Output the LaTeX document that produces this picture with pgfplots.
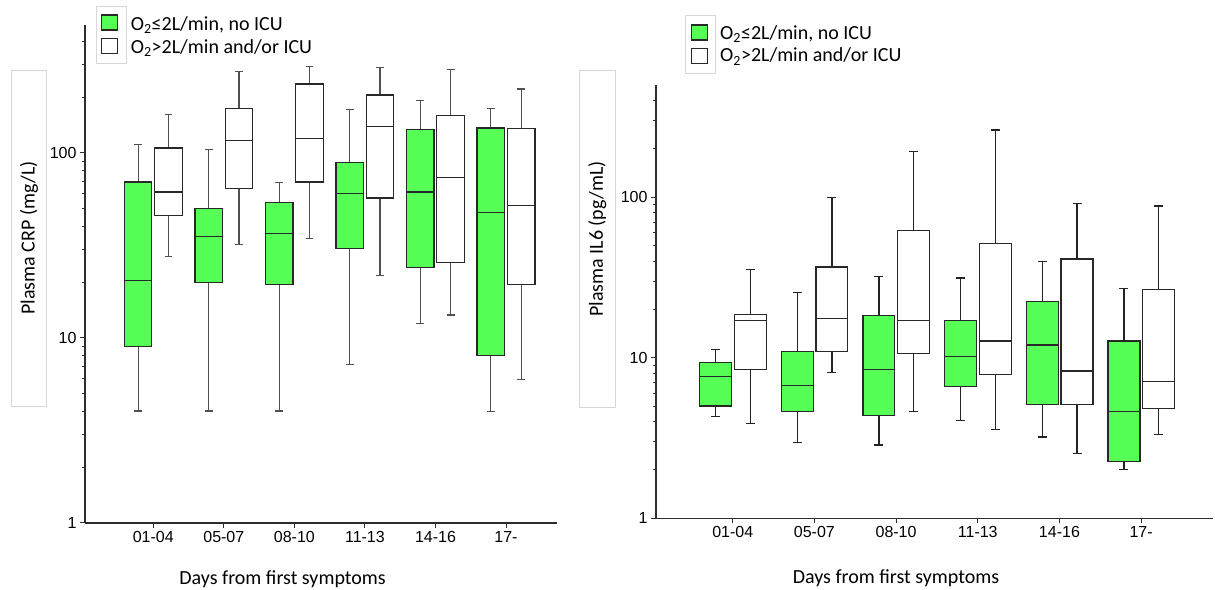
\documentclass[border=0pt]{standalone}
\usepackage{pgfplots}
\pgfplotsset{compat=1.18}
\usepackage{fontspec}
\setmainfont{Carlito}
\newfontfamily\arialf{Liberation Sans}
\definecolor{grn}{RGB}{85,255,85}
\definecolor{boxcol}{RGB}{40,40,40}
\definecolor{whiskL}{RGB}{80,80,80}
\definecolor{whiskR}{RGB}{35,35,35}
\definecolor{axiscol}{RGB}{45,45,45}
\definecolor{framecol}{RGB}{215,215,215}
\newcommand\tickf{\arialf\fontsize{16bp}{18bp}\selectfont}
\newcommand\labf{\fontsize{20bp}{22bp}\selectfont}
\def\wc{whiskL}
% box: fill, position, lower whisker, lower quartile, median, upper quartile, upper whisker
\newcommand\bx[7]{%
  \pgfmathsetmacro\xa{#2-0.195}%
  \pgfmathsetmacro\xb{#2+0.195}%
  \pgfmathsetmacro\ca{#2-0.055}%
  \pgfmathsetmacro\cb{#2+0.055}%
  \edef\tmp{%
    \noexpand\addplot[draw=\wc, line width=1.2bp] coordinates {(#2,#6) (#2,#7)};
    \noexpand\addplot[draw=\wc, line width=1.2bp] coordinates {(\ca,#7) (\cb,#7)};
    \noexpand\addplot[draw=\wc, line width=1.2bp] coordinates {(#2,#3) (#2,#4)};
    \noexpand\addplot[draw=\wc, line width=1.2bp] coordinates {(\ca,#3) (\cb,#3)};
    \noexpand\addplot[draw=boxcol, line width=1.2bp, fill=#1] coordinates {(\xa,#4) (\xb,#4) (\xb,#6) (\xa,#6)} --cycle;
    \noexpand\addplot[draw=boxcol, line width=1.2bp] coordinates {(\xa,#5) (\xb,#5)};
  }\tmp}
\pgfplotsset{
  myaxis/.style={
    anchor=south west, scale only axis,
    axis x line*=bottom, axis y line*=left,
    axis line style={line width=1.3bp, draw=axiscol},
    xtick={0,1,2,3,4,5},
    xticklabels={01-04,05-07,08-10,11-13,14-16,17-},
    ytick={1,10,100}, yticklabels={1,10,100},
    minor ytick={2,3,4,5,6,7,8,9,20,30,40,50,60,70,80,90,200,300,400},
    tick align=outside, major tick length=5bp, minor tick length=3bp,
    every tick/.style={line width=1bp, draw=axiscol},
    tick label style={font=\tickf},
    /pgf/number format/assume math mode=true,
    clip=false,
  }
}
\begin{document}
\begin{tikzpicture}[x=1bp,y=1bp]
\useasboundingbox (0,0) rectangle (1215,590);
% ---------- left panel ----------
\def\wc{whiskL}
\begin{axis}[ymode=log, myaxis, at={(85bp,67bp)}, width=472bp, height=498bp,
  ymin=1, ymax=490, xmin=-0.968, xmax=5.723]
\bx{grn}{-0.215}{4.03}{8.97}{20.4}{69.5}{111}
\bx{white}{0.215}{27.4}{45.6}{61.3}{106}{161}
\bx{grn}{0.785}{4.03}{19.9}{35.4}{49.8}{104}
\bx{white}{1.215}{31.9}{64.4}{116}{174}{275}
\bx{grn}{1.785}{4.03}{19.4}{36.8}{54.1}{68.8}
\bx{white}{2.215}{34.5}{69.5}{119}{235}{293}
\bx{grn}{2.785}{7.21}{30.5}{60.4}{88.3}{172}
\bx{white}{3.215}{21.8}{56.9}{139}{205}{289}
\bx{grn}{3.785}{12.0}{23.9}{61.3}{133}{192}
\bx{white}{4.215}{13.3}{25.5}{73.2}{159}{282}
\bx{grn}{4.785}{4.01}{8.0}{47.4}{136}{174}
\bx{white}{5.215}{5.94}{19.5}{51.8}{135}{221}
\end{axis}
% ---------- right panel ----------
\def\wc{whiskR}
\begin{axis}[ymode=log, myaxis, at={(656bp,71.7bp)}, width=557bp, height=433.3bp,
  ymin=1, ymax=500, xmin=-0.939, xmax=5.88]
\bx{grn}{-0.21}{4.29}{5.0}{7.65}{9.3}{11.3}
\bx{white}{0.215}{3.88}{8.46}{17.0}{18.7}{35.6}
\bx{grn}{0.79}{2.95}{4.61}{6.69}{11.0}{25.6}
\bx{white}{1.215}{8.13}{11.0}{17.6}{36.8}{99.4}
\bx{grn}{1.79}{2.86}{4.37}{8.41}{18.4}{32.2}
\bx{white}{2.215}{4.63}{10.6}{17.1}{62}{192}
\bx{grn}{2.79}{4.05}{6.59}{10.2}{17.1}{31.4}
\bx{white}{3.215}{3.59}{7.83}{12.7}{51.4}{262}
\bx{grn}{3.79}{3.21}{5.12}{12.0}{22.4}{39.9}
\bx{white}{4.215}{2.52}{5.12}{8.26}{41.2}{91.6}
\bx{grn}{4.79}{2.01}{2.26}{4.63}{12.7}{27.1}
\bx{white}{5.215}{3.33}{4.81}{7.08}{26.6}{88.2}
\end{axis}
% ---------- y-label frames ----------
\draw[framecol, line width=0.8bp] (11.7,183.3) rectangle (46,520);
\node[rotate=90, font=\labf] at (29,352) {Plasma CRP (mg/L)};
\draw[framecol, line width=0.8bp] (579.3,182.7) rectangle (615.3,519.3);
\node[rotate=90, font=\labf] at (597.3,351) {Plasma IL6 (pg/mL)};
% ---------- x labels ----------
\node[anchor=base, font=\labf, inner sep=0] at (282.6,5) {Days from first symptoms};
\node[anchor=base, font=\labf, inner sep=0] at (896,6.7) {Days from first symptoms};
% ---------- legends ----------
\draw[framecol, line width=0.8bp] (96.7,583.3) rectangle (126,526.7);
\draw[boxcol, line width=1.2bp, fill=grn] (101.7,575) rectangle (117.3,560);
\draw[boxcol, line width=1.2bp, fill=white] (101.7,551.7) rectangle (117.3,536.7);
\node[anchor=base west, font=\labf, inner sep=0] at (130.7,559.3) {O\textsubscript{2}≤2L/min, no ICU};
\node[anchor=base west, font=\labf, inner sep=0] at (130.7,536.7) {O\textsubscript{2}>2L/min and/or ICU};
\draw[framecol, line width=0.8bp] (685,575) rectangle (715.7,516.7);
\draw[boxcol, line width=1.2bp, fill=grn] (691.7,565) rectangle (707.3,550);
\draw[boxcol, line width=1.2bp, fill=white] (691.7,541.7) rectangle (707.3,526.7);
\node[anchor=base west, font=\labf, inner sep=0] at (720,550.7) {O\textsubscript{2}≤2L/min, no ICU};
\node[anchor=base west, font=\labf, inner sep=0] at (720,528) {O\textsubscript{2}>2L/min and/or ICU};
\end{tikzpicture}
\end{document}
